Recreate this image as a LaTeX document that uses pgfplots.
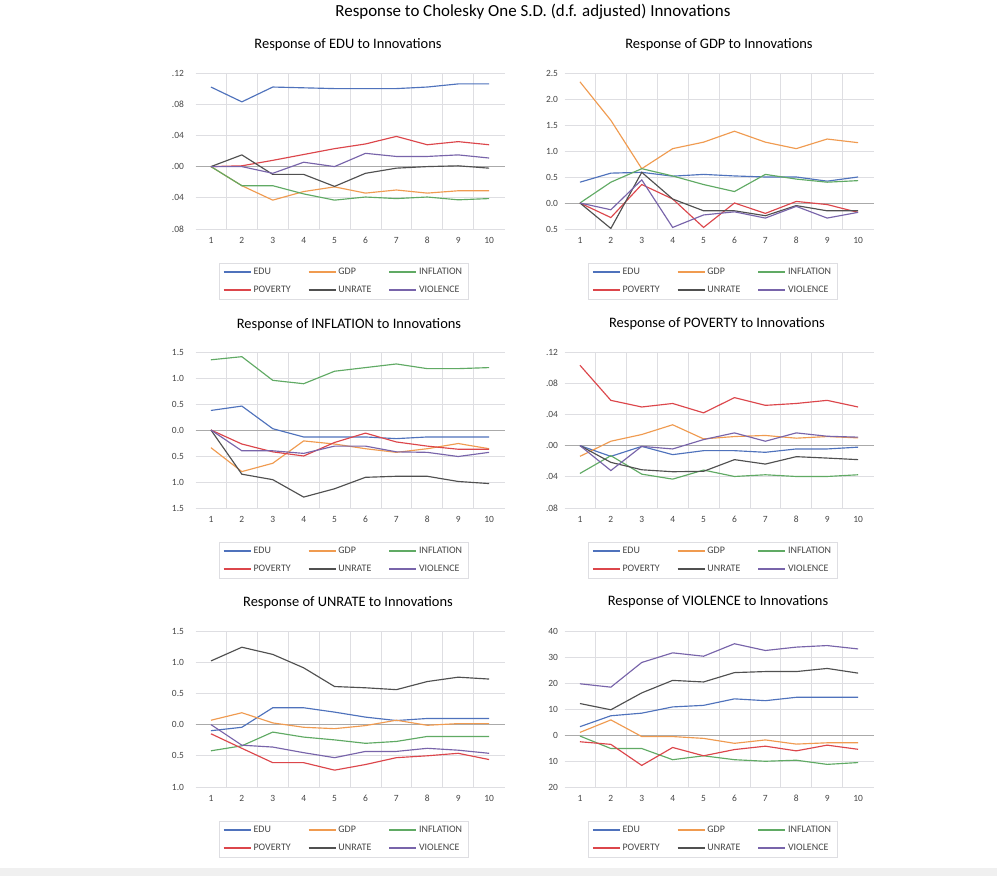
\documentclass[border=0pt]{standalone}
\usepackage{fontspec}
\setmainfont{Carlito}
\usepackage{pgfplots}
\usepackage{pgfplotstable}
\pgfplotsset{compat=1.18}

\definecolor{cEDU}{RGB}{79,114,188}
\definecolor{cGDP}{RGB}{240,155,80}
\definecolor{cINF}{RGB}{96,170,100}
\definecolor{cPOV}{RGB}{220,70,75}
\definecolor{cUNR}{RGB}{80,80,80}
\definecolor{cVIO}{RGB}{120,100,170}
\definecolor{gridc}{RGB}{222,222,226}
\definecolor{zeroc}{RGB}{170,170,170}
\definecolor{tickc}{RGB}{70,70,70}

% impulse responses, periods 1..10, one table per panel
\pgfplotstableread{
t EDU GDP INF POV UNR VIO
1 0.102 0 0 0 0 0
2 0.083 -0.0245 -0.0245 0.001 0.015 0.000
3 0.102 -0.043 -0.0245 0.008 -0.010 -0.0086
4 0.101 -0.032 -0.035 0.0155 -0.010 0.0056
5 0.100 -0.026 -0.043 0.023 -0.0254 0.000
6 0.100 -0.034 -0.039 0.029 -0.0086 0.017
7 0.100 -0.030 -0.041 0.0387 -0.002 0.013
8 0.102 -0.034 -0.039 0.028 0.000 0.013
9 0.106 -0.031 -0.0426 0.032 0.001 0.015
10 0.106 -0.031 -0.041 0.028 -0.002 0.011
}\dEDU

\pgfplotstableread{
t EDU GDP INF POV UNR VIO
1 0.40 2.33 0 0 0 0
2 0.574 1.59 0.40 -0.28 -0.49 -0.13
3 0.59 0.66 0.66 0.355 0.59 0.445
4 0.516 1.045 0.52 0.077 0.077 -0.47
5 0.55 1.17 0.355 -0.47 -0.15 -0.23
6 0.52 1.38 0.22 0 -0.15 -0.17
7 0.50 1.17 0.55 -0.20 -0.245 -0.29
8 0.50 1.045 0.46 0.03 -0.05 -0.065
9 0.42 1.23 0.40 -0.03 -0.15 -0.29
10 0.50 1.16 0.43 -0.18 -0.15 -0.18
}\dGDP

\pgfplotstableread{
t EDU GDP INF POV UNR VIO
1 0.376 -0.34 1.35 0 0 0
2 0.46 -0.80 1.41 -0.27 -0.85 -0.40
3 0.025 -0.64 0.955 -0.42 -0.955 -0.40
4 -0.134 -0.21 0.89 -0.50 -1.29 -0.45
5 -0.134 -0.27 1.13 -0.24 -1.13 -0.31
6 -0.134 -0.36 1.20 -0.06 -0.91 -0.31
7 -0.166 -0.43 1.27 -0.23 -0.89 -0.42
8 -0.134 -0.36 1.18 -0.31 -0.89 -0.43
9 -0.134 -0.26 1.18 -0.37 -0.99 -0.51
10 -0.134 -0.36 1.20 -0.37 -1.03 -0.43
}\dINF

\pgfplotstableread{
t EDU GDP INF POV UNR VIO
1 0 -0.0138 -0.0357 0.103 0 0
2 -0.0138 0.0056 -0.0129 0.058 -0.0215 -0.032
3 -0.001 0.0142 -0.0366 0.0495 -0.031 -0.001
4 -0.0116 0.0267 -0.043 0.054 -0.0335 -0.0043
5 -0.0065 0.0086 -0.0314 0.042 -0.033 0.0077
6 -0.0065 0.0116 -0.0396 0.0615 -0.018 0.0163
7 -0.0086 0.013 -0.0374 0.0516 -0.0237 0.0056
8 -0.0043 0.0095 -0.0396 0.054 -0.0142 0.0163
9 -0.0043 0.0116 -0.0396 0.058 -0.016 0.012
10 -0.002 0.0099 -0.0374 0.0495 -0.018 0.0108
}\dPOV

\pgfplotstableread{
t EDU GDP INF POV UNR VIO
1 -0.098 0.07 -0.42 -0.147 1.02 0
2 -0.043 0.19 -0.34 -0.38 1.24 -0.33
3 0.27 0.027 -0.12 -0.61 1.125 -0.36
4 0.27 -0.043 -0.20 -0.61 0.91 -0.45
5 0.20 -0.065 -0.245 -0.73 0.61 -0.53
6 0.12 -0.016 -0.30 -0.64 0.59 -0.43
7 0.065 0.07 -0.27 -0.53 0.56 -0.43
8 0.098 -0.011 -0.19 -0.50 0.69 -0.38
9 0.098 0.016 -0.19 -0.46 0.76 -0.41
10 0.098 0.016 -0.19 -0.56 0.73 -0.46
}\dUNR

\pgfplotstableread{
t EDU GDP INF POV UNR VIO
1 3.2 1.0 -0.4 -2.6 12.1 19.7
2 7.4 5.8 -5.2 -3.6 9.7 18.4
3 8.4 -0.6 -5.2 -11.7 16.2 27.9
4 10.8 -0.6 -9.5 -4.8 21.0 31.6
5 11.4 -1.3 -8.0 -8.0 20.4 30.3
6 13.9 -3.2 -9.5 -5.6 24.0 35.1
7 13.2 -1.9 -10.1 -4.3 24.4 32.5
8 14.5 -3.5 -9.7 -6.1 24.4 33.8
9 14.5 -3.0 -11.3 -3.9 25.6 34.4
10 14.5 -3.0 -10.6 -5.5 23.8 33.1
}\dVIO

\pgfplotsset{
  irf/.style={
    scale only axis, width=309bp, height=156bp,
    anchor=south west,
    xmin=0.5, xmax=10.5,
    xtick={1,...,10},
    minor xtick={1.5,2.5,...,9.5},
    xminorgrids=true, ymajorgrids=true, xmajorgrids=false,
    grid style={draw=gridc, line width=0.7bp},
    minor grid style={draw=gridc, line width=0.7bp},
    axis line style={draw=none},
    major tick length=0pt, minor tick length=0pt,
    tick style={draw=none},
    /pgf/number format/assume math mode=true,
    ticklabel style={font=\fontsize{9.5}{11}\selectfont, text=tickc},
    xticklabel style={yshift=-5bp},
    extra y ticks={0}, extra y tick labels={},
    extra y tick style={grid style={draw=zeroc, line width=0.8bp}},
    legend columns=3,
    legend cell align=left,
    legend style={at={(0.479,-0.215)}, anchor=north, draw=gridc,
      font=\fontsize{10}{11}\selectfont, text=tickc,
      inner xsep=4bp, inner ysep=3.5bp, row sep=6bp,
      /tikz/column 2/.style={column sep=15bp},
      /tikz/column 4/.style={column sep=15bp}},
    legend image code/.code={\draw[#1, line width=1.7bp] (0bp,0bp) -- (27bp,0bp);},
    every axis plot/.append style={line width=1.15bp, mark=none},
    cycle list={{cEDU},{cGDP},{cINF},{cPOV},{cUNR},{cVIO}},
  },
  leftcol/.style={yticklabel style={xshift=-8bp}},
  rightcol/.style={yticklabel style={xshift=-3bp}},
}

\newcommand{\sixlines}[1]{%
  \addplot table[x=t,y=EDU]{#1};
  \addplot table[x=t,y=GDP]{#1};
  \addplot table[x=t,y=INF]{#1};
  \addplot table[x=t,y=POV]{#1};
  \addplot table[x=t,y=UNR]{#1};
  \addplot table[x=t,y=VIO]{#1};
  \legend{EDU,GDP,INFLATION,POVERTY,UNRATE,VIOLENCE}}

\begin{document}
\begin{tikzpicture}
\path[use as bounding box, fill=white] (0,0) rectangle (997bp,876bp);
\fill[gray!12] (0,0) rectangle (997bp,8bp);

\node[font=\fontsize{17}{19}\selectfont] at (533bp,864bp)
  {Response to Cholesky One S.D. (d.f. adjusted) Innovations};

\begin{axis}[irf, leftcol, at={(195.5bp,647bp)},
  ymin=-0.08, ymax=0.12, ytick={-0.08,-0.04,0,0.04,0.08,0.12},
  yticklabels={.08,.04,.00,.04,.08,.12}]
  \sixlines{\dEDU}
\end{axis}
\node[font=\fontsize{14.5}{16}\selectfont] at (348bp,831bp) {Response of EDU to Innovations};

\begin{axis}[irf, rightcol, at={(564.5bp,647bp)},
  ymin=-0.5, ymax=2.5, ytick={-0.5,0,...,2.5},
  yticklabels={0.5,0.0,0.5,1.0,1.5,2.0,2.5}]
  \sixlines{\dGDP}
\end{axis}
\node[font=\fontsize{14.5}{16}\selectfont] at (719bp,831bp) {Response of GDP to Innovations};

\begin{axis}[irf, leftcol, at={(195.5bp,368bp)},
  ymin=-1.5, ymax=1.5, ytick={-1.5,-1,...,1.5},
  yticklabels={1.5,1.0,0.5,0.0,0.5,1.0,1.5}]
  \sixlines{\dINF}
\end{axis}
\node[font=\fontsize{14.5}{16}\selectfont] at (349bp,551bp) {Response of INFLATION to Innovations};

\begin{axis}[irf, rightcol, at={(564.5bp,368bp)},
  ymin=-0.08, ymax=0.12, ytick={-0.08,-0.04,0,0.04,0.08,0.12},
  yticklabels={.08,.04,.00,.04,.08,.12}]
  \sixlines{\dPOV}
\end{axis}
\node[font=\fontsize{14.5}{16}\selectfont] at (717bp,552bp) {Response of POVERTY to Innovations};

\begin{axis}[irf, leftcol, at={(195.5bp,89bp)},
  ymin=-1, ymax=1.5, ytick={-1,-0.5,...,1.5},
  yticklabels={1.0,0.5,0.0,0.5,1.0,1.5}]
  \sixlines{\dUNR}
\end{axis}
\node[font=\fontsize{14.5}{16}\selectfont] at (348bp,273bp) {Response of UNRATE to Innovations};

\begin{axis}[irf, rightcol, at={(564.5bp,89bp)},
  ymin=-20, ymax=40, ytick={-20,-10,...,40},
  yticklabels={20,10,0,10,20,30,40}]
  \sixlines{\dVIO}
\end{axis}
\node[font=\fontsize{14.5}{16}\selectfont] at (718bp,274bp) {Response of VIOLENCE to Innovations};
\end{tikzpicture}
\end{document}
